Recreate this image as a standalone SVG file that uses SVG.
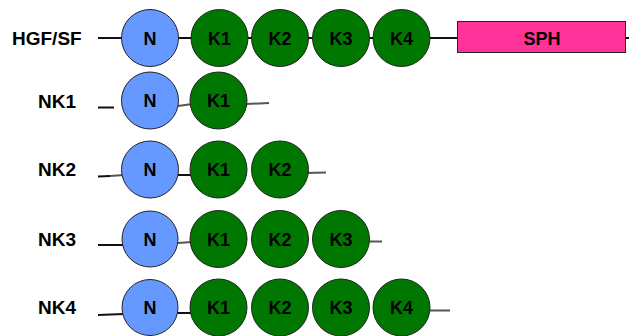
<svg xmlns="http://www.w3.org/2000/svg" width="629" height="336" viewBox="0 0 629 336">
<style>
.lbl{font-family:"Liberation Sans",Arial,sans-serif;font-weight:bold;font-size:19px;fill:#000}
.in{font-family:"Liberation Sans",Arial,sans-serif;font-weight:bold;font-size:18px;fill:#000;text-anchor:middle}
.n{fill:#6699ff;stroke:#222;stroke-width:1}
.k{fill:#007700;stroke:#222;stroke-width:1}
.ln{stroke:#111;stroke-width:2;fill:none}
.lg{stroke:#555;stroke-width:2;fill:none}
</style>
<rect width="629" height="336" fill="#fff"/>
<g id="connectors">
<line class="ln" x1="98" y1="38" x2="629" y2="38"/>
<line class="ln" x1="98" y1="107.5" x2="114" y2="107.5"/>
<line class="lg" x1="178" y1="106" x2="192" y2="104"/>
<line class="lg" x1="246" y1="104" x2="269" y2="103"/>
<line class="ln" x1="98" y1="176.5" x2="110" y2="176"/>
<line class="lg" x1="110" y1="176" x2="124" y2="175"/>
<line class="ln" x1="178" y1="175" x2="192" y2="175"/>
<line class="lg" x1="306" y1="173" x2="326" y2="172.5"/>
<line class="ln" x1="98" y1="245" x2="124" y2="245"/>
<line class="lg" x1="178" y1="243" x2="192" y2="242"/>
<line class="lg" x1="368" y1="241.5" x2="382" y2="241.5"/>
<line class="ln" x1="98" y1="315" x2="124" y2="314"/>
<line class="ln" x1="178" y1="313" x2="192" y2="313"/>
<line class="lg" x1="429" y1="310.5" x2="450" y2="310.5"/>
</g>
<g id="hgf">
<text class="lbl" x="12" y="45">HGF/SF</text>
<circle class="n" cx="150" cy="38" r="28.5"/><text class="in" x="150" y="44.5">N</text>
<circle class="k" cx="219.5" cy="38" r="28.5"/><text class="in" x="219.5" y="44.5">K1</text>
<circle class="k" cx="280" cy="38" r="28.5"/><text class="in" x="280" y="44.5">K2</text>
<circle class="k" cx="341" cy="38" r="28.5"/><text class="in" x="341" y="44.5">K3</text>
<circle class="k" cx="401.5" cy="38" r="28.5"/><text class="in" x="401.5" y="44.5">K4</text>
<rect x="457.5" y="21.5" width="168" height="31" fill="#ff3399" stroke="#222" stroke-width="1"/>
<text class="in" x="542" y="44.5">SPH</text>
</g>
<g id="nk1">
<text class="lbl" x="38" y="107.5">NK1</text>
<circle class="n" cx="150" cy="100.5" r="28.5"/><text class="in" x="150" y="107">N</text>
<circle class="k" cx="218.5" cy="100.5" r="28.5"/><text class="in" x="218.5" y="107">K1</text>
</g>
<g id="nk2">
<text class="lbl" x="38" y="176">NK2</text>
<circle class="n" cx="150" cy="169.5" r="28.5"/><text class="in" x="150" y="176">N</text>
<circle class="k" cx="218.5" cy="169.5" r="28.5"/><text class="in" x="218.5" y="176">K1</text>
<circle class="k" cx="280" cy="169.5" r="28.5"/><text class="in" x="280" y="176">K2</text>
</g>
<g id="nk3">
<text class="lbl" x="38" y="245.5">NK3</text>
<circle class="n" cx="150" cy="239" r="28"/><text class="in" x="150" y="245.5">N</text>
<circle class="k" cx="218.5" cy="239" r="28.5"/><text class="in" x="218.5" y="245.5">K1</text>
<circle class="k" cx="280" cy="239" r="28.5"/><text class="in" x="280" y="245.5">K2</text>
<circle class="k" cx="341" cy="239" r="28.5"/><text class="in" x="341" y="245.5">K3</text>
</g>
<g id="nk4">
<text class="lbl" x="38" y="314">NK4</text>
<circle class="n" cx="150" cy="307.5" r="28"/><text class="in" x="150" y="314">N</text>
<circle class="k" cx="218.5" cy="307.5" r="28.5"/><text class="in" x="218.5" y="314">K1</text>
<circle class="k" cx="280" cy="307.5" r="28.5"/><text class="in" x="280" y="314">K2</text>
<circle class="k" cx="341" cy="307.5" r="28.5"/><text class="in" x="341" y="314">K3</text>
<circle class="k" cx="401.5" cy="307.5" r="28.5"/><text class="in" x="401.5" y="314">K4</text>
</g>
</svg>
